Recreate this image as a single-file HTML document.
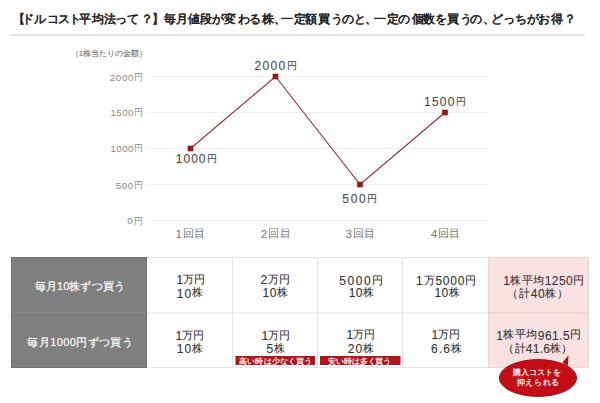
<!DOCTYPE html>
<html lang="ja">
<head>
<meta charset="utf-8">
<style>
html,body{margin:0;padding:0;background:#fff;}
body{width:600px;height:403px;position:relative;overflow:hidden;font-family:"Liberation Sans",sans-serif;color:#333;}
.t{position:absolute;white-space:nowrap;line-height:1;}
.title span{position:absolute;top:14px;font-size:11.5px;line-height:1;color:#222;-webkit-text-stroke:0.55px #1a1a1a;white-space:nowrap;}
.rule{position:absolute;left:10px;top:34px;width:575px;height:2px;background:#e2e2e2;}
</style>
</head>
<body>
<div class="title"><span style="left:12.8px">【</span><span style="left:22.0px">ド</span><span style="left:34.2px">ル</span><span style="left:46.5px">コ</span><span style="left:57.8px">ス</span><span style="left:68.5px">ト</span><span style="left:79.2px">平</span><span style="left:92.0px">均</span><span style="left:104.2px">法</span><span style="left:115.0px">っ</span><span style="left:127.0px">て</span><span style="left:140.5px">？</span><span style="left:152.2px">】</span><span style="left:163.8px">毎</span><span style="left:176.2px">月</span><span style="left:188.0px">値</span><span style="left:200.0px">段</span><span style="left:211.8px">が</span><span style="left:224.2px">変</span><span style="left:237.5px">わ</span><span style="left:249.0px">る</span><span style="left:261.5px">株</span><span style="left:273.5px">、</span><span style="left:281.0px">一</span><span style="left:294.0px">定</span><span style="left:305.2px">額</span><span style="left:318.2px">買</span><span style="left:330.5px">う</span><span style="left:342.2px">の</span><span style="left:354.0px">と</span><span style="left:365.0px">、</span><span style="left:373.5px">一</span><span style="left:386.5px">定</span><span style="left:398.2px">の</span><span style="left:411.5px">個</span><span style="left:423.0px">数</span><span style="left:434.8px">を</span><span style="left:447.0px">買</span><span style="left:459.8px">う</span><span style="left:470.2px">の</span><span style="left:482.5px">、</span><span style="left:490.7px">ど</span><span style="left:502.5px">っ</span><span style="left:514.5px">ち</span><span style="left:526.5px">が</span><span style="left:538.0px">お</span><span style="left:551.2px">得</span><span style="left:564.2px">？</span></div>
<div class="rule"></div>
<svg style="position:absolute;left:0;top:0" width="600" height="403">
  <g stroke="#f0f0f0" stroke-width="1">
    <line x1="148" y1="76.5" x2="488" y2="76.5"/>
    <line x1="148" y1="112.5" x2="488" y2="112.5"/>
    <line x1="148" y1="148.5" x2="488" y2="148.5"/>
    <line x1="148" y1="184.5" x2="488" y2="184.5"/>
    <line x1="148" y1="220.5" x2="488" y2="220.5"/>
  </g>
  <polyline points="190.5,148.5 275.5,76.5 360,184.5 445,112.5" fill="none" stroke="#8c2f33" stroke-width="1.1"/>
  <g fill="#a8161c" stroke="#7d1115" stroke-width="0.6">
    <rect x="188" y="146" width="5" height="5"/>
    <rect x="273" y="74" width="5" height="5"/>
    <rect x="357.5" y="182" width="5" height="5"/>
    <rect x="442.5" y="110" width="5" height="5"/>
  </g>
</svg>
<div class="t" style="left:11px;top:257px;width:134px;height:109px;background:#7f7f7f;border:1px solid #717171;"></div>
<div class="t" style="left:12px;top:312px;width:133px;height:1px;background:#8b8b8b;"></div>
<div class="t" style="left:488px;top:257px;width:100px;height:111px;background:#fae1e2;"></div>
<svg style="position:absolute;left:0;top:0" width="600" height="403">
  <g stroke="#e4e4e4" stroke-width="1">
    <line x1="147" y1="257.5" x2="488" y2="257.5"/>
    <line x1="147" y1="313" x2="488" y2="313"/>
    <line x1="147" y1="367.5" x2="488" y2="367.5"/>
    <line x1="232.5" y1="257" x2="232.5" y2="368"/>
    <line x1="317.5" y1="257" x2="317.5" y2="368"/>
    <line x1="402.5" y1="257" x2="402.5" y2="368"/>
  </g>
  <g stroke="#eed2d4" stroke-width="1">
    <line x1="488" y1="257.5" x2="588" y2="257.5"/>
    <line x1="488" y1="367.5" x2="588" y2="367.5"/>
    <line x1="488.5" y1="257" x2="488.5" y2="368"/>
    <line x1="588.5" y1="257" x2="588.5" y2="368"/>
  </g>
  <line x1="488" y1="313" x2="588" y2="313" stroke="#e6cbcd" stroke-width="1"/>
  <rect x="235.5" y="356" width="79.5" height="9" fill="#b0141c"/>
  <rect x="320" y="356" width="80.5" height="9" fill="#b0141c"/>
  
  <path d="M562.5,362.5 L568.5,355.3 L567.8,366 Z" fill="#a80c14"/>
  <ellipse cx="538" cy="378" rx="38.6" ry="18.4" fill="#c40e17" stroke="#a00b12" stroke-width="1"/>
</svg>
<div class="t" style="left:70.71px;top:49.54px;font-size:8px;letter-spacing:-0.00px;color:#707070;-webkit-text-stroke:0.1px #707070;">（1株当たりの金額）</div>
<div class="t" style="left:109.81px;top:72.90px;font-size:9.8px;letter-spacing:0.62px;color:#8a8a8a;">2000<span style="font-size:0.88em;position:relative;top:-0.1em">円</span></div>
<div class="t" style="left:110.50px;top:108.30px;font-size:9.8px;letter-spacing:0.40px;color:#8a8a8a;">1500<span style="font-size:0.88em;position:relative;top:-0.1em">円</span></div>
<div class="t" style="left:110.50px;top:143.86px;font-size:9.8px;letter-spacing:0.40px;color:#8a8a8a;">1000<span style="font-size:0.88em;position:relative;top:-0.1em">円</span></div>
<div class="t" style="left:115.73px;top:180.65px;font-size:9.8px;letter-spacing:0.62px;color:#8a8a8a;">500<span style="font-size:0.88em;position:relative;top:-0.1em">円</span></div>
<div class="t" style="left:127.24px;top:216.40px;font-size:9.8px;letter-spacing:1.12px;color:#8a8a8a;">0<span style="font-size:0.88em;position:relative;top:-0.1em">円</span></div>
<div class="t" style="left:254.56px;top:59.92px;font-size:12px;letter-spacing:1.32px;color:#4a4a4a;-webkit-text-stroke:0.1px #4a4a4a;">2000<span style="font-size:0.84em;position:relative;top:-0.1em">円</span></div>
<div class="t" style="left:424.10px;top:96.44px;font-size:12px;letter-spacing:1.20px;color:#4a4a4a;-webkit-text-stroke:0.1px #4a4a4a;">1500<span style="font-size:0.84em;position:relative;top:-0.1em">円</span></div>
<div class="t" style="left:175.80px;top:153.42px;font-size:12px;letter-spacing:1.00px;color:#4a4a4a;-webkit-text-stroke:0.1px #4a4a4a;">1000<span style="font-size:0.84em;position:relative;top:-0.1em">円</span></div>
<div class="t" style="left:342.33px;top:193.28px;font-size:12px;letter-spacing:1.69px;color:#4a4a4a;-webkit-text-stroke:0.1px #4a4a4a;">500<span style="font-size:0.84em;position:relative;top:-0.1em">円</span></div>
<div class="t" style="left:175.48px;top:228.44px;font-size:11.7px;letter-spacing:0.72px;color:#747474;">1<span style="font-size:0.95em;position:relative;top:-0.1em">回目</span></div>
<div class="t" style="left:260.69px;top:228.44px;font-size:11.7px;letter-spacing:0.76px;color:#747474;">2<span style="font-size:0.95em;position:relative;top:-0.1em">回目</span></div>
<div class="t" style="left:345.47px;top:228.44px;font-size:11.7px;letter-spacing:0.68px;color:#747474;">3<span style="font-size:0.95em;position:relative;top:-0.1em">回目</span></div>
<div class="t" style="left:430.83px;top:228.44px;font-size:11.7px;letter-spacing:0.52px;color:#747474;">4<span style="font-size:0.95em;position:relative;top:-0.1em">回目</span></div>
<div class="t" style="left:34.96px;top:281.24px;font-size:11px;letter-spacing:0.06px;color:#fff;-webkit-text-stroke:0.2px #fff;">毎月10株ずつ買う</div>
<div class="t" style="left:27.40px;top:336.80px;font-size:11px;letter-spacing:0.40px;color:#fff;-webkit-text-stroke:0.2px #fff;">毎月1000円ずつ買う</div>
<div class="t" style="left:176.45px;top:274.36px;font-size:12px;letter-spacing:-0.20px;color:#333;-webkit-text-stroke:0.1px #333;">1<span style="font-size:0.92em;position:relative;top:-0.1em">万円</span></div>
<div class="t" style="left:176.75px;top:287.56px;font-size:12px;letter-spacing:1.00px;color:#333;-webkit-text-stroke:0.1px #333;">10<span style="font-size:0.92em;position:relative;top:-0.1em">株</span></div>
<div class="t" style="left:260.60px;top:274.36px;font-size:12px;letter-spacing:0.40px;color:#333;-webkit-text-stroke:0.1px #333;">2<span style="font-size:0.92em;position:relative;top:-0.1em">万円</span></div>
<div class="t" style="left:262.60px;top:287.36px;font-size:12px;letter-spacing:0.40px;color:#333;-webkit-text-stroke:0.1px #333;">10<span style="font-size:0.92em;position:relative;top:-0.1em">株</span></div>
<div class="t" style="left:339.30px;top:275.04px;font-size:12px;letter-spacing:1.60px;color:#333;-webkit-text-stroke:0.1px #333;">5000<span style="font-size:0.92em;position:relative;top:-0.1em">円</span></div>
<div class="t" style="left:348.80px;top:286.62px;font-size:12px;letter-spacing:0.40px;color:#333;-webkit-text-stroke:0.1px #333;">10<span style="font-size:0.92em;position:relative;top:-0.1em">株</span></div>
<div class="t" style="left:416.10px;top:275.04px;font-size:12px;letter-spacing:0.80px;color:#333;-webkit-text-stroke:0.1px #333;">1<span style="font-size:0.92em;position:relative;top:-0.1em">万</span>5000<span style="font-size:0.92em;position:relative;top:-0.1em">円</span></div>
<div class="t" style="left:434.59px;top:286.62px;font-size:12px;letter-spacing:0.36px;color:#333;-webkit-text-stroke:0.1px #333;">10<span style="font-size:0.92em;position:relative;top:-0.1em">株</span></div>
<div class="t" style="left:503.33px;top:275.02px;font-size:12px;letter-spacing:0.43px;color:#333;-webkit-text-stroke:0.1px #333;">1<span style="font-size:0.92em;position:relative;top:-0.1em">株平均</span>1250<span style="font-size:0.92em;position:relative;top:-0.1em">円</span></div>
<div class="t" style="left:507.48px;top:288.04px;font-size:12px;letter-spacing:0.61px;color:#333;-webkit-text-stroke:0.1px #333;"><span style="font-size:0.92em;position:relative;top:-0.1em">（計</span>40<span style="font-size:0.92em;position:relative;top:-0.1em">株）</span></div>
<div class="t" style="left:175.45px;top:329.96px;font-size:12px;letter-spacing:-0.20px;color:#333;-webkit-text-stroke:0.1px #333;">1<span style="font-size:0.92em;position:relative;top:-0.1em">万円</span></div>
<div class="t" style="left:176.75px;top:343.06px;font-size:12px;letter-spacing:1.00px;color:#333;-webkit-text-stroke:0.1px #333;">10<span style="font-size:0.92em;position:relative;top:-0.1em">株</span></div>
<div class="t" style="left:261.45px;top:329.76px;font-size:12px;letter-spacing:-0.20px;color:#333;-webkit-text-stroke:0.1px #333;">1<span style="font-size:0.92em;position:relative;top:-0.1em">万円</span></div>
<div class="t" style="left:266.45px;top:342.66px;font-size:12px;letter-spacing:1.20px;color:#333;-webkit-text-stroke:0.1px #333;">5<span style="font-size:0.92em;position:relative;top:-0.1em">株</span></div>
<div class="t" style="left:346.50px;top:329.46px;font-size:12px;letter-spacing:0.00px;color:#333;-webkit-text-stroke:0.1px #333;">1<span style="font-size:0.92em;position:relative;top:-0.1em">万円</span></div>
<div class="t" style="left:347.75px;top:343.26px;font-size:12px;letter-spacing:1.00px;color:#333;-webkit-text-stroke:0.1px #333;">20<span style="font-size:0.92em;position:relative;top:-0.1em">株</span></div>
<div class="t" style="left:431.45px;top:329.32px;font-size:12px;letter-spacing:-0.20px;color:#333;-webkit-text-stroke:0.1px #333;">1<span style="font-size:0.92em;position:relative;top:-0.1em">万円</span></div>
<div class="t" style="left:430.95px;top:343.26px;font-size:12px;letter-spacing:1.20px;color:#333;-webkit-text-stroke:0.1px #333;">6.6<span style="font-size:0.92em;position:relative;top:-0.1em">株</span></div>
<div class="t" style="left:496.23px;top:329.52px;font-size:12px;letter-spacing:0.47px;color:#333;-webkit-text-stroke:0.1px #333;">1<span style="font-size:0.92em;position:relative;top:-0.1em">株平均</span>961.5<span style="font-size:0.92em;position:relative;top:-0.1em">円</span></div>
<div class="t" style="left:503.32px;top:343.12px;font-size:12px;letter-spacing:0.25px;color:#333;-webkit-text-stroke:0.1px #333;"><span style="font-size:0.92em;position:relative;top:-0.1em">（計</span>41.6<span style="font-size:0.92em;position:relative;top:-0.1em">株）</span></div>
<div class="t" style="left:239.23px;top:358.00px;font-size:8px;letter-spacing:0.13px;color:#fbe9e9;font-weight:bold;">高い時は少なく買う</div>
<div class="t" style="left:328.02px;top:358.08px;font-size:8px;letter-spacing:-0.09px;color:#fbe9e9;font-weight:bold;">安い時は多く買う</div>
<div class="t" style="left:512.96px;top:368.70px;font-size:8.2px;letter-spacing:-0.06px;color:#fdeaea;font-weight:bold;">購入コストを</div>
<div class="t" style="left:516.88px;top:378.70px;font-size:8.2px;letter-spacing:0.56px;color:#fdeaea;font-weight:bold;">抑えられる</div>
</body>
</html>
